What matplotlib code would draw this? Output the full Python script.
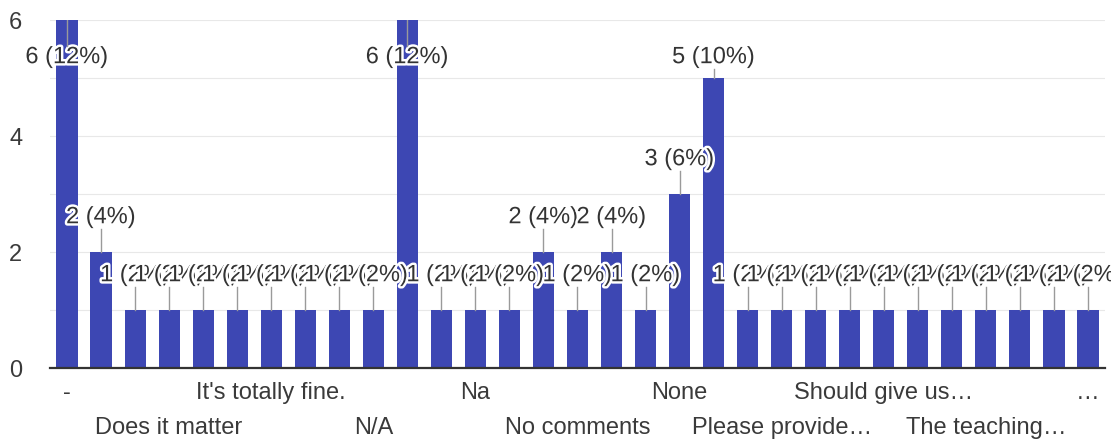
import matplotlib.pyplot as plt
import matplotlib.patheffects as pe

# responses per answer (sorted alphabetically, as in the form summary)
counts = [6, 2, 1, 1, 1, 1, 1, 1, 1, 1,
          6, 1, 1, 1, 2, 1, 2, 1, 3, 5,
          1, 1, 1, 1, 1, 1, 1, 1, 1, 1, 1]
# only every third answer gets a label on the axis
shown_labels = ["-", "Does it matter", "It's totally fine.", "N/A", "Na",
                "No comments", "None", "Please provide\u2026", "Should give us\u2026",
                "The teaching\u2026", "\u2026"]
label_step = 3

total = sum(counts)
bar_color = "#3d47b3"
text_color = "#333333"

plt.rcParams['font.family'] = ['Liberation Sans', 'DejaVu Sans']

fig = plt.figure(figsize=(11.11, 4.41), dpi=100)
ax = fig.add_axes([0.045, 0.1655, 0.9496, 0.789])

x = list(range(len(counts)))
ax.bar(x, counts, width=0.62, color=bar_color, zorder=2)

ax.set_xlim(-0.5, len(counts) - 0.5)
ax.set_ylim(0, 6)
ax.set_yticks([0, 2, 4, 6])
ax.set_yticks([1, 3, 5], minor=True)
ax.grid(axis='y', which='both', color='#e8e8e8', lw=0.8, zorder=0)
ax.tick_params(axis='y', which='both', length=0, pad=20, labelsize=17, labelcolor='#3a3a3a')

ax.set_xticks(x[::label_step], shown_labels)
ax.tick_params(axis='x', length=0, labelsize=17, labelcolor='#3a3a3a')
for i, t in enumerate(ax.xaxis.get_major_ticks()):
    t.set_pad(10 if i % 2 == 0 else 35)

for s in ['top', 'right', 'left']:
    ax.spines[s].set_visible(False)
ax.spines['bottom'].set_color('#333333')
ax.spines['bottom'].set_linewidth(1.6)
ax.spines['bottom'].set_zorder(3)

halo = [pe.withStroke(linewidth=3.5, foreground='white')]
for xi, v in zip(x, counts):
    ly = min(v + 0.6, 5.36)
    ax.text(xi, ly, f"{v} ({round(100 * v / total)}%)", ha='center', va='center',
            fontsize=17, color=text_color, path_effects=halo, zorder=4)
    end = ly - 0.2 if ly > v else ly + 0.2
    ax.plot([xi, xi], [v, end], color='#9a9a9a', lw=1, zorder=5)

fig.savefig("out.png", dpi=100)
